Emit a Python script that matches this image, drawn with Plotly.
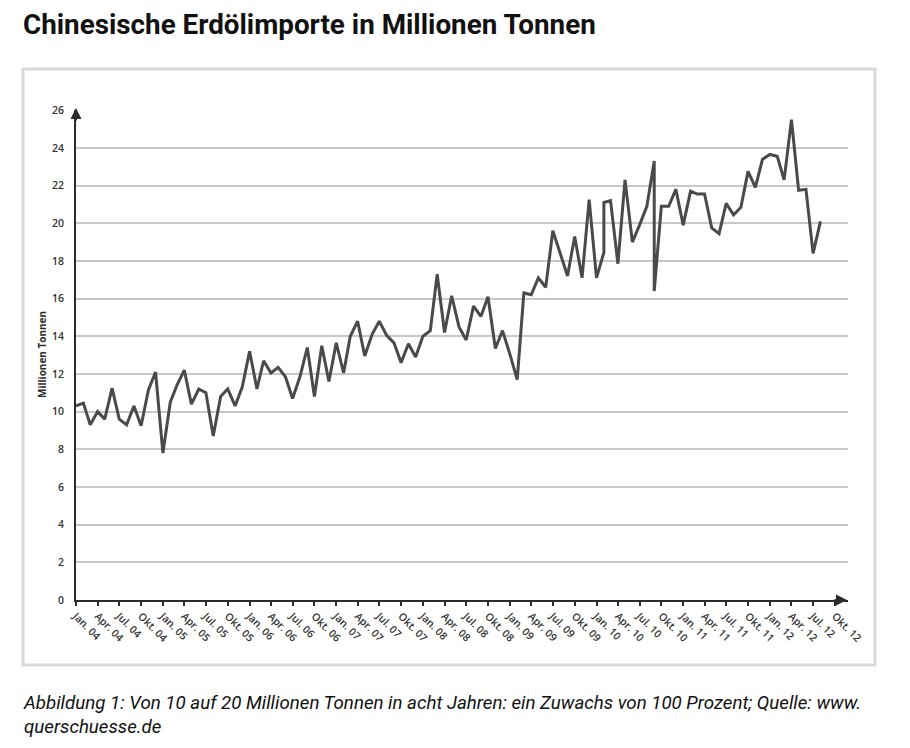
"""Chinesische Erdölimporte 2004-2012 (monthly, Mio. t)."""
import pandas as pd
import plotly.graph_objects as go

# monthly imports in million tonnes
imports_2004 = [10.3, 10.45, 9.3, 10.0, 9.6, 11.25, 9.6, 9.3, 10.3, 9.25, 11.15, 12.1]
imports_2005 = [7.8, 10.5, 11.4, 12.2, 10.4, 11.2, 11.0, 8.7, 10.8, 11.2, 10.3, 11.3]
imports_2006 = [13.2, 11.2, 12.7, 12.05, 12.35, 11.85, 10.7, 11.85, 13.4, 10.8, 13.5, 11.6]
imports_2007 = [13.65, 12.05, 14.0, 14.8, 12.95, 14.1, 14.8, 14.05, 13.65, 12.6, 13.6, 12.9]
imports_2008 = [14.0, 14.3, 17.3, 14.2, 16.15, 14.5, 13.8, 15.6, 15.05, 16.1, 13.35, 14.3]
imports_2009 = [13.05, 11.7, 16.3, 16.2, 17.1, 16.6, 19.6, 18.4, 17.2, 19.3, 17.1, 21.25]
# Feb and Sep 2010 carry two readings each in the source (drawn as vertical jumps)
imports_2010 = [17.1, 18.45, 21.1, 21.2, 17.85, 22.3, 19.0, 19.9, 20.9, 23.3, 16.4, 20.9, 20.9, 21.8]
imports_2011 = [19.9, 21.7, 21.55, 21.55, 19.75, 19.45, 21.05, 20.45, 20.85, 22.75, 21.9, 23.4]
imports_2012 = [23.65, 23.55, 22.3, 25.5, 21.75, 21.8, 18.4, 20.1]
double_months = ["2010-02", "2010-09"]

tick_labels = [
    "Jan. 04", "Apr. 04", "Jul. 04", "Okt. 04", "Jan. 05", "Apr. 05", "Jul. 05", "Okt. 05",
    "Jan. 06", "Apr. 06", "Jul. 06", "Okt. 06", "Jan. 07", "Apr. 07", "Jul. 07", "Okt. 07",
    "Jan. 08", "Apr. 08", "Jul. 08", "Okt. 08", "Jan. 09", "Apr. 09", "Jul. 09", "Okt. 09",
    "Jan. 10", "Apr. 10", "Jul. 10", "Okt. 10", "Jan. 11", "Apr. 11", "Jul. 11", "Okt. 11",
    "Jan. 12", "Apr. 12", "Jul. 12", "Okt. 12",
]

values = (imports_2004 + imports_2005 + imports_2006 + imports_2007 + imports_2008
          + imports_2009 + imports_2010 + imports_2011 + imports_2012)
months = []
for m in pd.date_range("2004-01-01", "2012-08-01", freq="MS"):
    key = m.strftime("%Y-%m")
    months.append(key)
    if key in double_months:
        months.append(key)
assert len(months) == len(values)
tick_vals = [d.strftime("%Y-%m-%d") for d in pd.date_range("2004-01-01", "2012-10-01", freq="QS")]

W, H = 910, 748
L, R, T, B = 76, 62, 110, 148
PW, PH = W - L - R, H - T - B


def px(x):
    return (x - L) / PW


def py(y):
    return (H - B - y) / PH


AXIS = "#2b2b2b"
TICKFONT = dict(family="Open Sans", size=10.5, color="#333333", weight=600)

fig = go.Figure()
fig.add_trace(
    go.Scatter(
        x=months,
        y=values,
        mode="lines",
        line=dict(color="#4a4a4a", width=3),
        hoverinfo="x+y",
        showlegend=False,
    )
)

fig.update_xaxes(
    type="date",
    range=["2004-01-01", "2012-11-25"],
    tickmode="array",
    tickvals=tick_vals,
    ticktext=tick_labels,
    tickangle=45,
    tickfont=TICKFONT,
    showgrid=False,
    showline=True,
    linecolor=AXIS,
    linewidth=2,
    ticks="outside",
    ticklen=4,
    tickwidth=1.5,
    tickcolor=AXIS,
    zeroline=False,
)
fig.update_yaxes(
    range=[0, 26.01],
    tick0=0,
    dtick=2,
    tickfont=TICKFONT,
    showgrid=True,
    gridcolor="#c8c8c8",
    gridwidth=2,
    showline=True,
    linecolor=AXIS,
    linewidth=2,
    zeroline=False,
    ticks="",
    ticklabelstandoff=8,
)

# axis arrowheads
fig.add_annotation(xref="paper", yref="paper", x=0, y=py(108), ax=0, ay=14,
                   text="", showarrow=True, arrowhead=2, arrowsize=1.1, arrowwidth=2,
                   arrowcolor=AXIS)
fig.add_annotation(xref="paper", yref="paper", x=px(847), y=0, ax=-14, ay=0,
                   text="", showarrow=True, arrowhead=2, arrowsize=1.1, arrowwidth=2,
                   arrowcolor=AXIS)

fig.add_annotation(xref="paper", yref="paper", x=px(42), y=0.5, text="<b>Millionen Tonnen</b>",
                   textangle=-90, showarrow=False, xanchor="center", yanchor="middle",
                   font=dict(family="Open Sans", size=10, color="#2b2b2b"))

fig.add_annotation(xref="paper", yref="paper", x=px(21), y=py(25), xanchor="left", yanchor="middle",
                   text="<b>Chinesische Erdölimporte in Millionen Tonnen</b>", showarrow=False,
                   font=dict(family="Roboto", size=27.8, color="#111111"))

fig.add_annotation(xref="paper", yref="paper", x=px(21), y=py(690), xanchor="left", yanchor="top",
                   align="left", showarrow=False,
                   text=("<i>Abbildung 1: Von 10 auf 20 Millionen Tonnen in acht Jahren: ein Zuwachs "
                         "von 100 Prozent; Quelle: www.<br>querschuesse.de</i>"),
                   font=dict(family="Roboto", size=18.7, color="#111111"))

# grey frame around the chart
fig.add_shape(type="rect", xref="paper", yref="paper",
              x0=px(23), x1=px(875), y0=py(665), y1=py(69),
              line=dict(color="#d9d9d9", width=3), fillcolor="rgba(0,0,0,0)", layer="below")

fig.update_layout(
    width=W,
    height=H,
    autosize=False,
    margin=dict(l=L, r=R, t=T, b=B),
    paper_bgcolor="white",
    plot_bgcolor="white",
    showlegend=False,
)

# page has a default 8px body margin; drop it so the figure sits at the window corner
fig.write_html("out.html", config={"displayModeBar": False},
               post_script="document.body.style.margin = '0';")
